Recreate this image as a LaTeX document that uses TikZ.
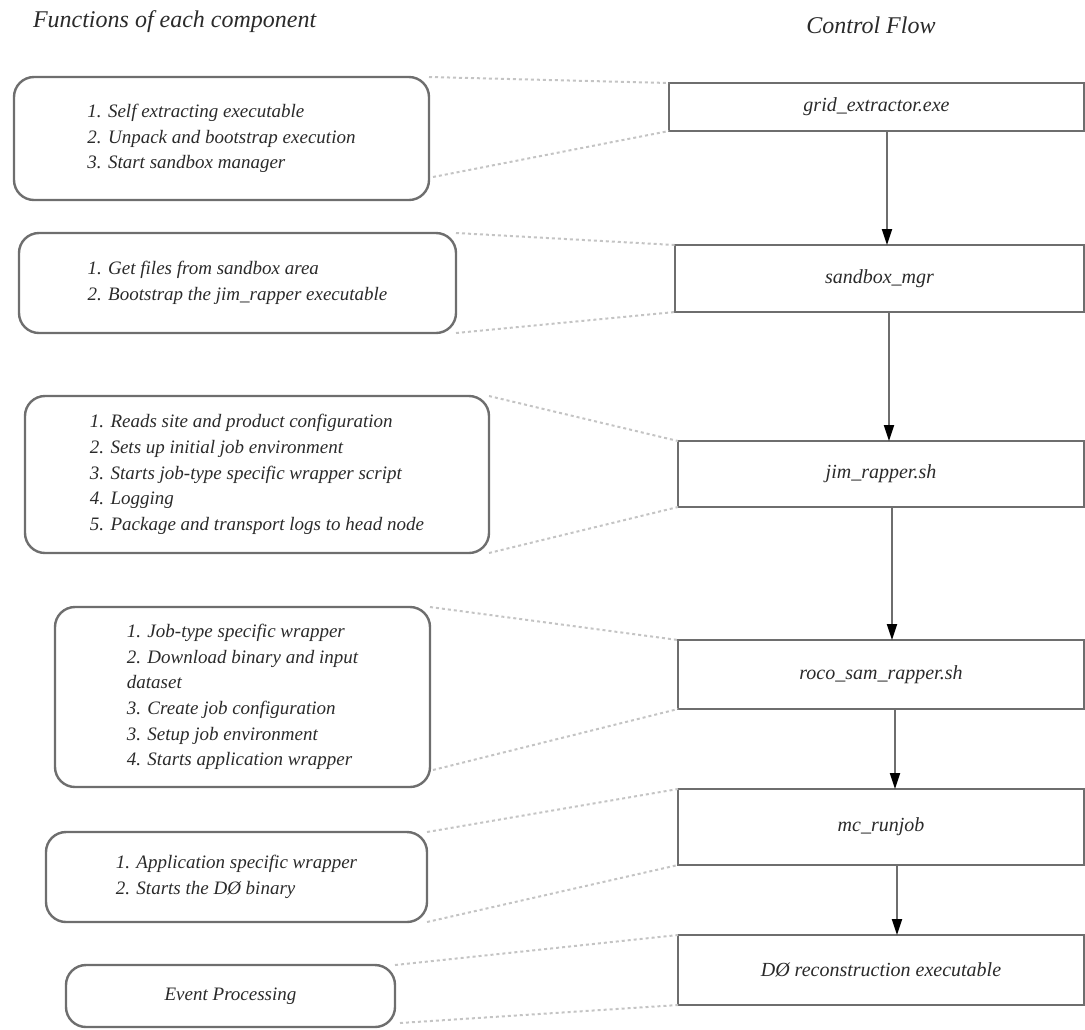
\documentclass[tikz,border=0pt]{standalone}
\usepackage{fontspec}
\setmainfont{Liberation Serif}
\usetikzlibrary{arrows.meta,calc}
\definecolor{edge}{HTML}{6E6E6E}
\definecolor{ink}{HTML}{2A2A2A}
\definecolor{guide}{HTML}{C4C4C4}
\begin{document}
\begin{tikzpicture}[x=0.5pt,y=-0.5pt,
  every node/.style={inner sep=0pt, outer sep=0pt, text=ink,
    font=\itshape\fontsize{10}{13}\selectfont},
  stage/.style={draw=edge, line width=1.2pt, rectangle, align=center},
  duty/.style={draw=edge, line width=1.2pt, rounded corners=10pt, align=left,
    font=\itshape\fontsize{9.5}{12.8}\selectfont},
  flow/.style={draw=edge, line width=1pt,
    -{Triangle[length=8pt,width=5pt,color=black]}},
  link/.style={draw=guide, line width=1pt, dash pattern=on 1.5pt off 1.5pt},
  heading/.style={font=\itshape\fontsize{12}{15}\selectfont}]
\useasboundingbox (0,0) rectangle (1085,1029);

% column headings
\node[heading, anchor=west] (hfun) at (33,22) {Functions of each component};
\node[heading] (hflow) at (871,25) {Control Flow};

% control flow stages
\node[stage, minimum width=207.5pt, minimum height=24pt]   (grid)    at (876.5,107)   {grid\_extractor.exe};
\node[stage, minimum width=204.5pt, minimum height=33.5pt] (sandbox) at (879.5,278.5) {sandbox\_mgr};
\node[stage, minimum width=203pt,   minimum height=33pt]   (jim)     at (881,474)     {jim\_rapper.sh};
\node[stage, minimum width=203pt,   minimum height=34.5pt] (roco)    at (881,674.5)   {roco\_sam\_rapper.sh};
\node[stage, minimum width=203pt,   minimum height=38pt]   (mc)      at (881,827)     {mc\_runjob};
\node[stage, minimum width=203pt,   minimum height=35pt]   (dzero)   at (881,970)     {DØ reconstruction executable};

% functions of each component
\node[duty, minimum width=207.5pt, minimum height=61.5pt] (f1) at (221.5,138.5)
  {1. Self extracting executable\\2. Unpack and bootstrap execution\\3. Start sandbox manager};
\node[duty, minimum width=218.5pt, minimum height=50pt] (f2) at (237.5,283)
  {1. Get files from sandbox area\\2. Bootstrap the jim\_rapper executable};
\node[duty, minimum width=232pt, minimum height=78.5pt] (f3) at (257,474.5)
  {1. Reads site and product configuration\\2. Sets up initial job environment\\3. Starts job-type specific wrapper script\\4. Logging\\5. Package and transport logs to head node};
\node[duty, minimum width=187.5pt, minimum height=90pt] (f4) at (242.5,697)
  {1. Job-type specific wrapper\\2. Download binary and input\\dataset\\3. Create job configuration\\3. Setup job environment\\4. Starts application wrapper};
\node[duty, minimum width=190.5pt, minimum height=45pt] (f5) at (236.5,877)
  {1. Application specific wrapper\\2. Starts the DØ binary};
\node[duty, minimum width=164.5pt, minimum height=31pt] (f6) at (230.5,996)
  {Event Processing};

% control flow arrows
\draw[flow] ($(grid.south)+(10.5,0)$)   -- ($(sandbox.north)+(7.5,0)$);
\draw[flow] ($(sandbox.south)+(9.5,0)$) -- ($(jim.north)+(8,0)$);
\draw[flow] ($(jim.south)+(11,0)$)      -- ($(roco.north)+(11,0)$);
\draw[flow] ($(roco.south)+(14,0)$)     -- ($(mc.north)+(14,0)$);
\draw[flow] ($(mc.south)+(16,0)$)       -- ($(dzero.north)+(16,0)$);

% dotted guides from each description to its stage
\draw[link] (f1.north east) -- (grid.north west);
\draw[link] ($(f1.south east)+(4,-23)$) -- (grid.south west);
\draw[link] (f2.north east) -- (sandbox.north west);
\draw[link] (f2.south east) -- (sandbox.south west);
\draw[link] (f3.north east) -- (jim.north west);
\draw[link] (f3.south east) -- (jim.south west);
\draw[link] (f4.north east) -- (roco.north west);
\draw[link] ($(f4.south east)+(3,-17)$) -- (roco.south west);
\draw[link] (f5.north east) -- (mc.north west);
\draw[link] (f5.south east) -- (mc.south west);
\draw[link] (f6.north east) -- (dzero.north west);
\draw[link] ($(f6.south east)+(5,-4)$) -- (dzero.south west);
\end{tikzpicture}
\end{document}
